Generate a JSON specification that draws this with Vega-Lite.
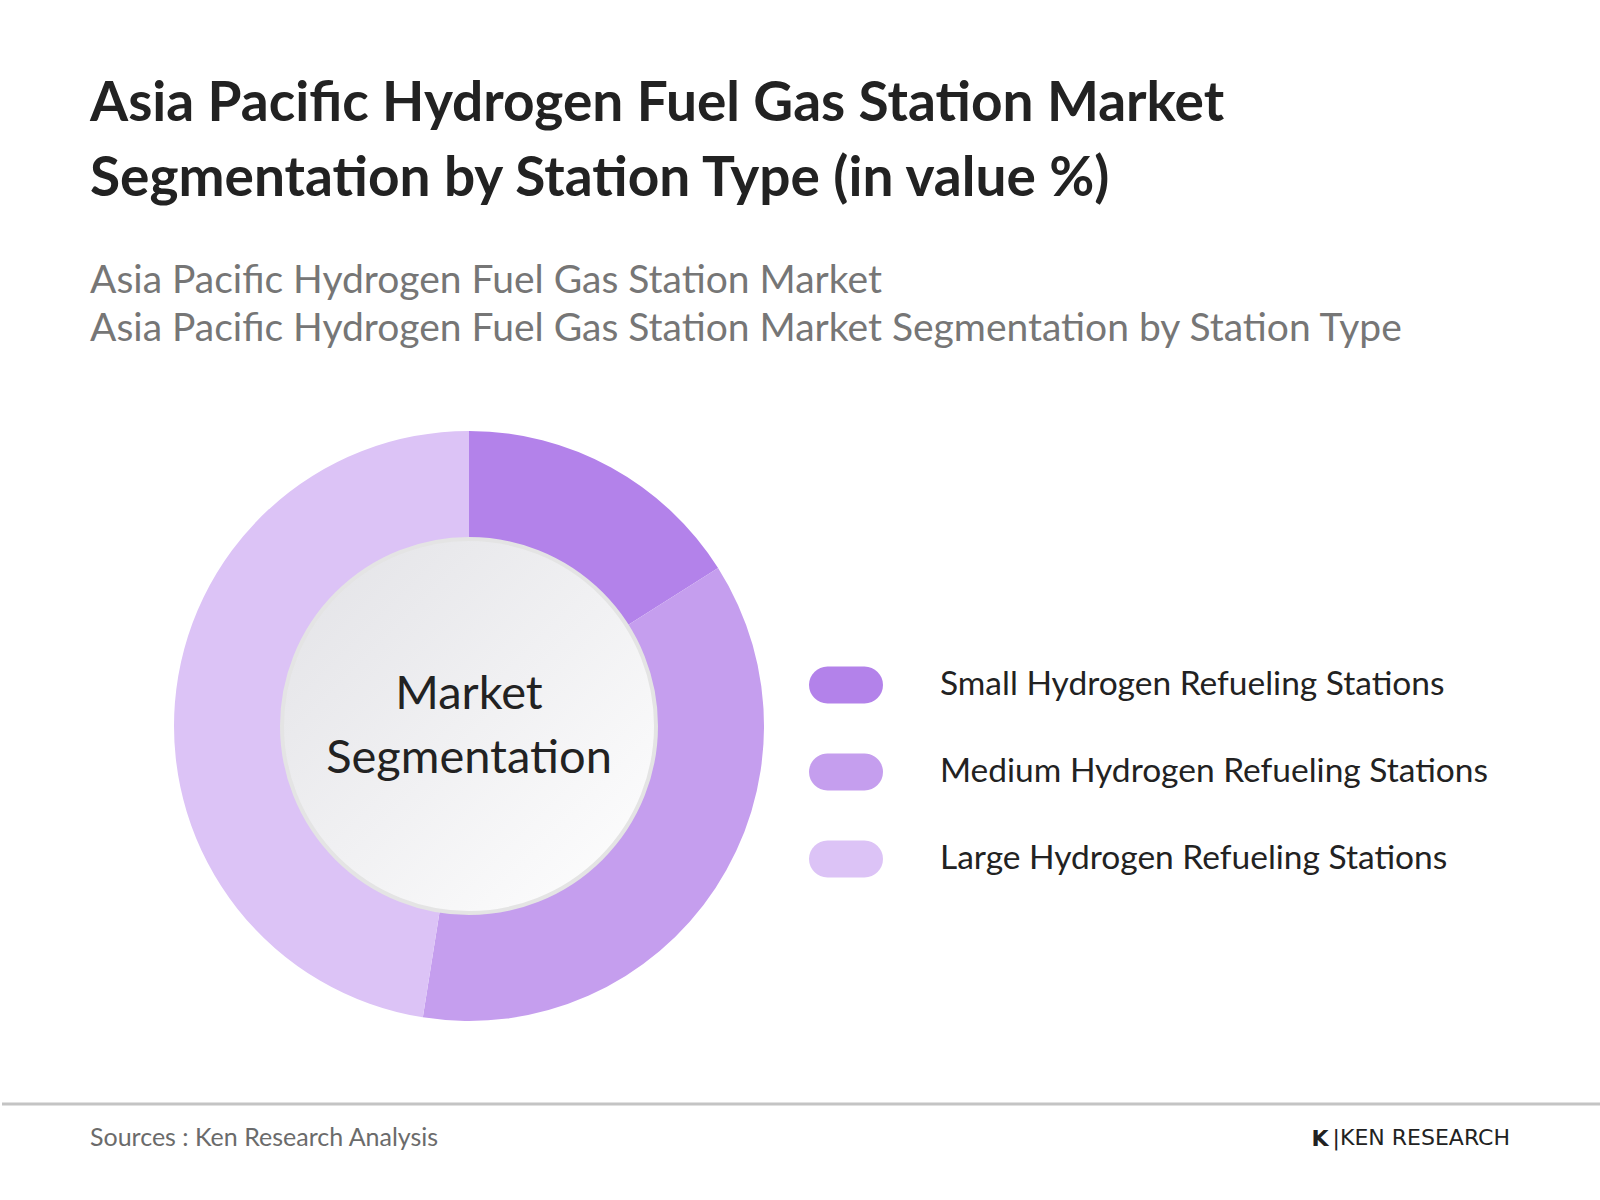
{
  "$schema": "https://vega.github.io/schema/vega-lite/v6.json",
  "background": "white",
  "padding": {"top": 77, "left": 0, "right": 0, "bottom": 0},
  "config": {
    "view": {"stroke": null},
    "font": "Lato",
    "title": {
      "font": "Lato", "fontWeight": "bold", "fontSize": 55, "color": "#222222",
      "lineHeight": 75, "anchor": "start", "frame": "group", "dx": 88,
      "subtitleFont": "Lato", "subtitleFontSize": 39, "subtitleColor": "#767676",
      "subtitleLineHeight": 48, "subtitlePadding": 54, "offset": 49
    }
  },
  "vconcat": [
    {
      "title": {
        "text": ["Asia Pacific Hydrogen Fuel Gas Station Market", "Segmentation by Station Type (in value %)"],
        "subtitle": ["Asia Pacific Hydrogen Fuel Gas Station Market", "Asia Pacific Hydrogen Fuel Gas Station Market Segmentation by Station Type"]
      },
      "width": 934,
      "height": 654,
      "resolve": {"scale": {"theta": "independent"}},
      "layer": [
        {
          "data": {"values": [
            {"type": "Small Hydrogen Refueling Stations", "share": 16, "rank": 1},
            {"type": "Medium Hydrogen Refueling Stations", "share": 36.5, "rank": 2},
            {"type": "Large Hydrogen Refueling Stations", "share": 47.5, "rank": 3}
          ]},
          "mark": {"type": "arc", "outerRadius": 295, "innerRadius": 185},
          "encoding": {
            "theta": {"field": "share", "type": "quantitative", "stack": true},
            "order": {"field": "rank", "type": "quantitative"},
            "color": {
              "field": "type", "type": "nominal",
              "sort": ["Small Hydrogen Refueling Stations", "Medium Hydrogen Refueling Stations", "Large Hydrogen Refueling Stations"],
              "scale": {
                "domain": ["Small Hydrogen Refueling Stations", "Medium Hydrogen Refueling Stations", "Large Hydrogen Refueling Stations"],
                "range": ["#b382ea", "#c59eee", "#dcc3f6"]
              },
              "legend": {
                "title": null,
                "orient": "none",
                "legendX": 807,
                "legendY": 249,
                "symbolType": "M-0.5,-0.5 H0.5 A0.5,0.5 0 0 1 0.5,0.5 H-0.5 A0.5,0.5 0 0 1 -0.5,-0.5 Z",
                "symbolSize": 5476,
                "symbolStrokeWidth": 0,
                "symbolOpacity": 1,
                "labelFont": "Lato",
                "labelFontSize": 33.5,
                "labelColor": "#222222",
                "labelOffset": 57,
                "labelLimit": 800,
                "rowPadding": 31
              }
            }
          }
        },
        {
          "data": {"values": [{"whole": 1}]},
          "mark": {
            "type": "arc", "outerRadius": 187, "innerRadius": 0,
            "fill": {"gradient": "linear", "x1": 0, "y1": 0, "x2": 1, "y2": 1,
              "stops": [{"offset": 0, "color": "#e2e2e6"}, {"offset": 1, "color": "#ffffff"}]},
            "stroke": "#e4e4e4", "strokeWidth": 4
          },
          "encoding": {"theta": {"field": "whole", "type": "quantitative"}}
        },
        {
          "data": {"values": [{"label": "Market\nSegmentation"}]},
          "mark": {"type": "text", "lineBreak": "\n", "font": "Lato", "fontSize": 47, "lineHeight": 64, "color": "#222222", "baseline": "middle", "align": "center", "dy": -31},
          "encoding": {"text": {"field": "label"}}
        }
      ]
    },
    {
      "width": 1600,
      "height": 96,
      "layer": [
        {
          "data": {"values": [{"k": 1}]},
          "mark": {"type": "rule", "color": "#c4c4c4", "strokeWidth": 3},
          "encoding": {"y": {"value": 0}}
        },
        {
          "data": {"values": [{"note": "Sources : Ken Research Analysis"}]},
          "mark": {"type": "text", "font": "Lato", "fontSize": 25, "color": "#6b6b6b", "align": "left", "baseline": "alphabetic"},
          "encoding": {"text": {"field": "note"}, "x": {"value": 88}, "y": {"value": 42}}
        },
        {
          "data": {"values": [{"brand": "|KEN RESEARCH"}]},
          "mark": {"type": "text", "font": "DejaVu Sans", "fontSize": 22, "color": "#222222", "align": "right", "baseline": "alphabetic"},
          "encoding": {"text": {"field": "brand"}, "x": {"value": 1508}, "y": {"value": 41}}
        },
        {
          "data": {"values": [{"icon": "K"}]},
          "mark": {"type": "text", "font": "DejaVu Sans", "fontSize": 22, "fontWeight": "bold", "color": "#222222", "align": "center", "baseline": "alphabetic"},
          "encoding": {"text": {"field": "icon"}, "x": {"value": 1318}, "y": {"value": 42}}
        }
      ]
    }
  ],
  "spacing": 49
}
